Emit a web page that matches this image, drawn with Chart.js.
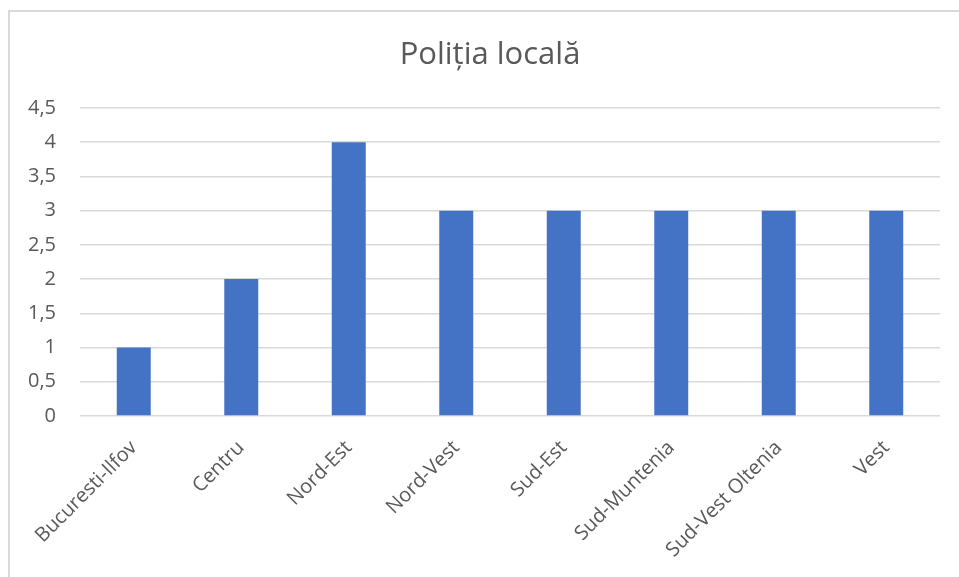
<!DOCTYPE html>
<html>
<head>
<meta charset="utf-8">
<script src="https://cdn.jsdelivr.net/npm/chart.js@4"></script>
<style>
    html, body { margin: 0; padding: 0; background: #ffffff; overflow: hidden; }
    #wrap { position: relative; width: 959px; height: 577px; }
    #frame {
        position: absolute; left: 8px; top: 10px; width: 2000px; height: 2000px;
        border-left: 2px solid #d9d9d9; border-top: 2px solid #d9d9d9;
    }
    #chart { position: absolute; left: 0; top: 0; }
</style>
</head>
<body>
<div id="wrap">
    <div id="frame"></div>
    <canvas id="chart" width="959" height="577"></canvas>
</div>
<script>
// Chart data
const regions = ["Bucuresti-Ilfov", "Centru", "Nord-Est", "Nord-Vest", "Sud-Est", "Sud-Muntenia", "Sud-Vest Oltenia", "Vest"];
const counts = [1, 2, 4, 3, 3, 3, 3, 3];
const yTicks = [0, 0.5, 1, 1.5, 2, 2.5, 3, 3.5, 4, 4.5];

const textColor = '#595959';
const gridColor = '#d9d9d9';
const fontFamily = "'Open Sans', 'Noto Sans', sans-serif";

// Excel centres the title on the whole frame, not the plot area
const shiftTitle = {
    id: 'shiftTitle',
    afterLayout(chart) {
        if (chart.titleBlock) {
            chart.titleBlock.left = 40;
        }
    }
};

const ctx = document.getElementById("chart").getContext("2d");

new Chart(ctx, {
    type: 'bar',
    data: {
        labels: regions,
        datasets: [{
            label: 'Poliția locală',
            data: counts,
            backgroundColor: '#4472C4',
            borderWidth: 0,
            barPercentage: 0.316,
            categoryPercentage: 1.0
        }]
    },
    plugins: [shiftTitle],
    options: {
        responsive: false,
        animation: false,
        layout: {
            padding: { left: 0, right: 19, top: 0, bottom: 0 }
        },
        plugins: {
            legend: { display: false },
            tooltip: { enabled: false },
            title: {
                display: true,
                text: 'Poliția locală',
                color: textColor,
                font: { family: fontFamily, size: 31, weight: 'normal' },
                padding: { top: 36.4, bottom: 34.4 }
            }
        },
        scales: {
            x: {
                grid: { display: false, drawTicks: false },
                border: { display: false },
                ticks: {
                    color: textColor,
                    font: { family: fontFamily, size: 20 },
                    minRotation: 45,
                    maxRotation: 45,
                    autoSkip: false,
                    padding: 20
                },
                afterFit: (scale) => {
                    scale.height = 161;
                    scale.paddingLeft = 0;
                    scale.paddingRight = 0;
                }
            },
            y: {
                min: 0,
                max: 4.5,
                afterBuildTicks: (scale) => {
                    scale.ticks = yTicks.map(v => ({ value: v }));
                },
                grid: { color: gridColor, lineWidth: 1.5, drawTicks: false },
                border: { display: false },
                ticks: {
                    color: textColor,
                    font: { family: fontFamily, size: 20 },
                    padding: 24,
                    callback: (v) => String(v).replace('.', ',')
                },
                afterFit: (scale) => {
                    scale.width = 80;
                    scale.paddingTop = 0;
                    scale.paddingBottom = 0;
                }
            }
        }
    }
});
</script>
</body>
</html>
